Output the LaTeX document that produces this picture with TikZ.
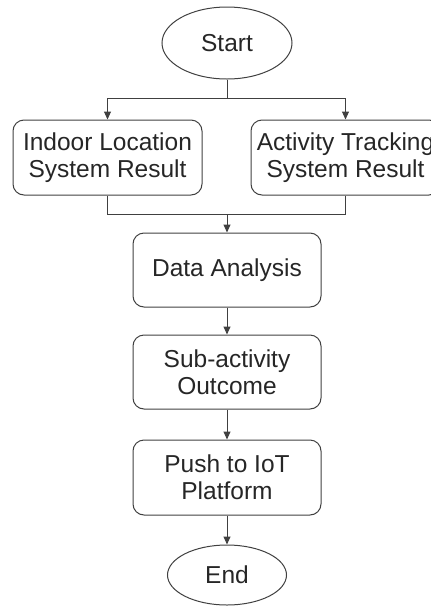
\documentclass[tikz,border=0pt]{standalone}
\usepackage{fontspec}
\setmainfont{Liberation Sans}
\usetikzlibrary{shapes.geometric,arrows.meta}

\begin{document}
\begin{tikzpicture}[x=1pt,y=-1pt,
    line width=1pt, draw=black!75,
    boxstyle/.style={rectangle, rounded corners=11pt, draw=black!75, align=center,
        minimum width=189pt, minimum height=75pt, inner sep=0pt,
        font=\fontsize{24.5}{27}\selectfont, text=black!85},
    ovalstyle/.style={ellipse, draw=black!75, inner sep=0pt,
        font=\fontsize{24.5}{27}\selectfont, text=black!85},
    arrowstyle/.style={-{Triangle[length=8pt,width=7pt]}, draw=black!75}]
    \useasboundingbox (0,0) rectangle (431,606);
    \node[ovalstyle, minimum width=130pt, minimum height=72pt] (start) at (227,43) {Start};
    \node[boxstyle] (ils) at (107.5,157.5) {Indoor Location\\System Result};
    \node[boxstyle] (ats) at (345.5,157.5) {Activity Tracking\\System Result};
    \node[boxstyle, minimum width=188pt, minimum height=74pt] (data) at (227,270) {Data Analysis};
    \node[boxstyle, minimum width=188pt, minimum height=74pt] (sub) at (227,372) {Sub-activity\\Outcome};
    \node[boxstyle, minimum width=188pt] (push) at (227,477.5) {Push to IoT\\Platform};
    \node[ovalstyle, minimum width=119pt, minimum height=60pt] (end) at (227,575) {End};
    \coordinate (split) at (227,98);
    \coordinate (join) at (227,214);
    % Connections between nodes
    \draw (start) -- (split);
    \draw[arrowstyle] (split) -| (ils);
    \draw[arrowstyle] (split) -| (ats);
    \draw (ils) |- (join);
    \draw (ats) |- (join);
    \draw[arrowstyle] (join) -- (data);
    \draw[arrowstyle] (data) -- (sub);
    \draw[arrowstyle] (sub) -- (push);
    \draw[arrowstyle] (push) -- (end);
\end{tikzpicture}
\end{document}
